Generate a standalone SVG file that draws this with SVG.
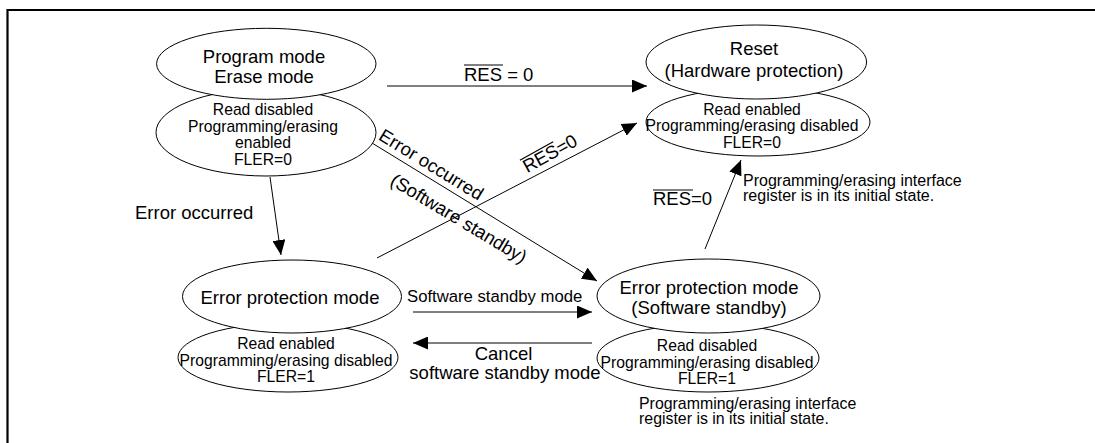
<svg xmlns="http://www.w3.org/2000/svg" width="1095" height="443" viewBox="0 0 1095 443">
<defs>
<style>
text{font-family:"Liberation Sans",Arial,Helvetica,sans-serif;fill:#000}
.big{font-size:18.5px;text-anchor:middle}
.sm{font-size:15.7px;text-anchor:middle}
.lbl{font-size:18.5px}
.note{font-size:16px}
ellipse{fill:#fff;stroke:#000;stroke-width:1}
.ln{stroke:#000;stroke-width:1;fill:none}
.ov{stroke:#000;stroke-width:1.2}
</style>
<marker id="ah" markerWidth="15" markerHeight="13" refX="15" refY="6.5" orient="auto" markerUnits="userSpaceOnUse"><path d="M0,0 L15,6.5 L0,13 z" fill="#000"/></marker>
</defs>
<rect width="1095" height="443" fill="#fff"/>
<g id="frame"><path d="M7.5,443 V10 H1095" fill="none" stroke="#000" stroke-width="2.2"/></g>

<g id="connectors">
<line class="ln" x1="387" y1="86" x2="647" y2="86" marker-end="url(#ah)"/>
<line class="ln" x1="377" y1="258" x2="637" y2="123" marker-end="url(#ah)"/>
<line class="ln" x1="372" y1="143" x2="597" y2="281" marker-end="url(#ah)"/>
<line class="ln" x1="270" y1="177" x2="281" y2="255" marker-end="url(#ah)"/>
<line class="ln" x1="705" y1="249" x2="741" y2="160" marker-end="url(#ah)"/>
<line class="ln" x1="413" y1="312" x2="592" y2="312" marker-end="url(#ah)"/>
<line class="ln" x1="592" y1="343" x2="413" y2="343" marker-end="url(#ah)"/>
<text class="lbl" x="464" y="81">RES = 0</text>
<line class="ov" x1="464" y1="65" x2="503" y2="65"/>
<g transform="translate(553,159) rotate(-29)">
<text class="lbl" x="0" y="0" text-anchor="middle">RES=0</text>
<line class="ov" x1="-29.5" y1="-15" x2="8.5" y2="-15"/>
</g>
<text class="lbl" transform="translate(428,170) rotate(31.5)" text-anchor="middle">Error occurred</text>
<text class="lbl" transform="translate(455.5,224) rotate(31)" text-anchor="middle">(Software standby)</text>
<text class="lbl" x="135" y="219">Error occurred</text>
<text class="lbl" x="653" y="205">RES=0</text>
<line class="ov" x1="653" y1="190" x2="693" y2="190"/>
<text class="lbl" x="407" y="302" style="font-size:16.7px">Software standby mode</text>
<text class="lbl" x="503.5" y="360" text-anchor="middle">Cancel</text>
<text class="lbl" x="505" y="379" text-anchor="middle">software standby mode</text>
</g>

<g id="node-program">
<ellipse cx="266" cy="132.5" rx="110" ry="43.5"/>
<ellipse cx="266.3" cy="63.8" rx="109.7" ry="35.5"/>
<text class="big" x="264" y="63">Program mode</text>
<text class="big" x="264" y="83">Erase mode</text>
<text class="sm" x="263" y="115">Read disabled</text>
<text class="sm" x="263" y="131.5">Programming/erasing</text>
<text class="sm" x="263" y="148">enabled</text>
<text class="sm" x="263" y="164.5">FLER=0</text>
</g>

<g id="node-reset">
<ellipse cx="758" cy="122" rx="112" ry="34"/>
<ellipse cx="756.3" cy="62" rx="110.3" ry="37"/>
<text class="big" x="754" y="55">Reset</text>
<text class="big" x="754" y="77">(Hardware protection)</text>
<text class="sm" x="752" y="115">Read enabled</text>
<text class="sm" x="752" y="131">Programming/erasing disabled</text>
<text class="sm" x="752" y="148">FLER=0</text>
<text class="note" x="743" y="186">Programming/erasing interface</text>
<text class="note" x="743" y="201">register is in its initial state.</text>
</g>

<g id="node-error">
<ellipse cx="288" cy="357.5" rx="110" ry="34.5"/>
<ellipse cx="292" cy="296.5" rx="109.5" ry="36.5"/>
<text class="big" x="290" y="304">Error protection mode</text>
<text class="sm" x="286" y="349">Read enabled</text>
<text class="sm" x="286" y="365.5">Programming/erasing disabled</text>
<text class="sm" x="286" y="381.5">FLER=1</text>
</g>

<g id="node-error-standby">
<ellipse cx="708" cy="358" rx="111" ry="34"/>
<ellipse cx="708.5" cy="296" rx="111.5" ry="37"/>
<text class="big" x="709" y="293.5">Error protection mode</text>
<text class="big" x="709" y="314">(Software standby)</text>
<text class="sm" x="707" y="351">Read disabled</text>
<text class="sm" x="707" y="368">Programming/erasing disabled</text>
<text class="sm" x="707" y="384">FLER=1</text>
<text class="note" x="639" y="409" style="font-size:15.9px">Programming/erasing interface</text>
<text class="note" x="639" y="424" style="font-size:15.9px">register is in its initial state.</text>
</g>
</svg>
